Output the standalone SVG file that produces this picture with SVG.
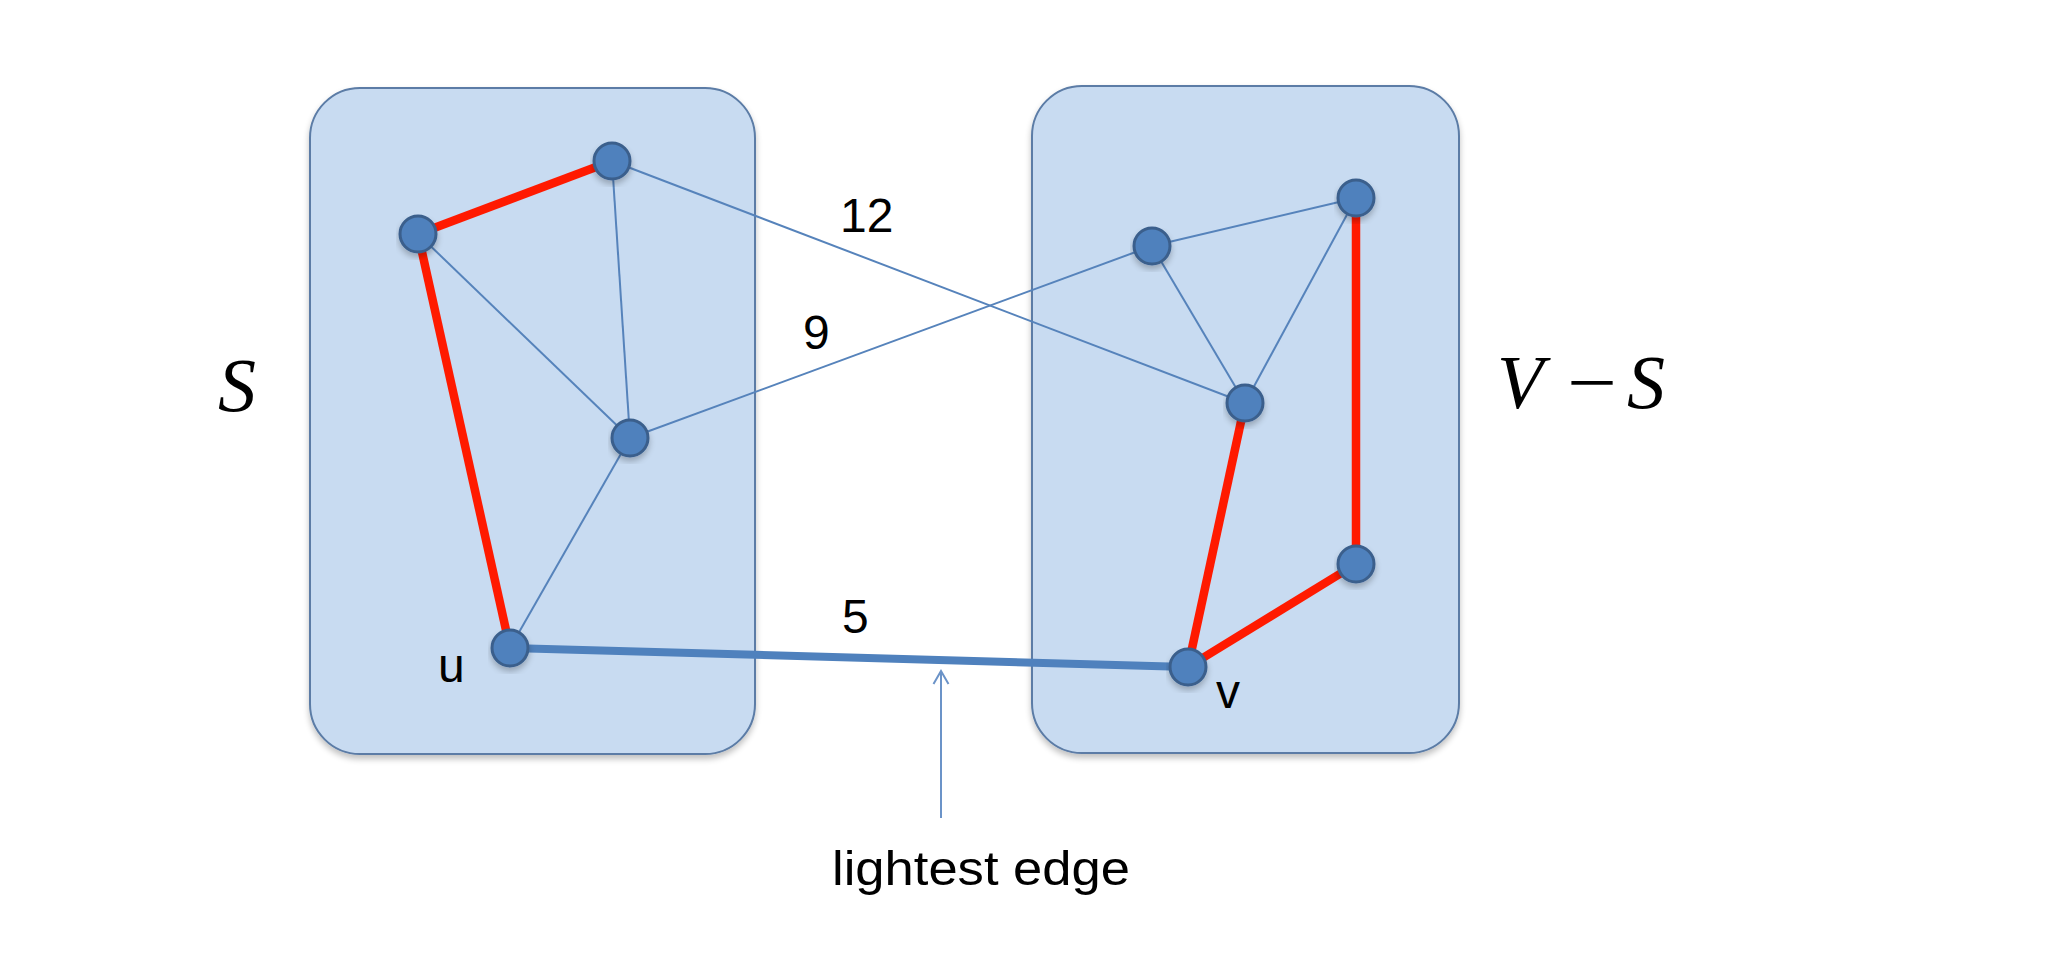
<svg xmlns="http://www.w3.org/2000/svg" width="2048" height="976" viewBox="0 0 2048 976">
<defs>
<filter id="sh" x="-10%" y="-10%" width="130%" height="130%">
<feGaussianBlur in="SourceAlpha" stdDeviation="3"/>
<feOffset dx="0" dy="4" result="b"/>
<feComponentTransfer><feFuncA type="linear" slope="0.25"/></feComponentTransfer>
<feMerge><feMergeNode/><feMergeNode in="SourceGraphic"/></feMerge>
</filter>
<marker id="arr" viewBox="0 0 20 20" refX="18" refY="10" markerWidth="20" markerHeight="20" markerUnits="userSpaceOnUse" orient="auto">
<path d="M5 2.5 L18 10 L5 17.5" fill="none" stroke="#6b93c8" stroke-width="2"/>
</marker>
</defs>
<style>
.box{fill:#c8dbf1;stroke:#5b7ca6;stroke-width:2}
.node{fill:#4f81bd;stroke:#3a5f8c;stroke-width:3}
.thin{stroke:#5683bb;stroke-width:2;fill:none}
.red{stroke:#ff1a00;stroke-width:8.5;fill:none;stroke-linecap:butt}
.heavy{stroke:#4f81bd;stroke-width:8;fill:none}
.lbl{font-family:"Liberation Sans",Arial,sans-serif;font-size:48px;fill:#000}
.math{font-family:"Liberation Serif","Times New Roman",serif;font-style:italic;font-size:76px;fill:#000}
</style>
<rect width="2048" height="976" fill="#ffffff"/>
<g id="setS"><rect class="box" x="310" y="88" width="445" height="666" rx="50" ry="50" filter="url(#sh)"/></g>
<g id="setVS"><rect class="box" x="1032" y="86" width="427" height="667" rx="50" ry="50" filter="url(#sh)"/></g>
<g id="connectors">
<line class="thin" x1="418" y1="234" x2="630" y2="438"/>
<line class="thin" x1="612" y1="161" x2="630" y2="438"/>
<line class="thin" x1="630" y1="438" x2="510" y2="648"/>
<line class="thin" x1="612" y1="161" x2="1245" y2="403"/>
<line class="thin" x1="630" y1="438" x2="1152" y2="246"/>
<line class="thin" x1="1152" y1="246" x2="1356" y2="198"/>
<line class="thin" x1="1152" y1="246" x2="1245" y2="403"/>
<line class="thin" x1="1356" y1="198" x2="1245" y2="403"/>
<line class="red" x1="418" y1="234" x2="612" y2="161"/>
<line class="red" x1="418" y1="234" x2="510" y2="648"/>
<line class="red" x1="1245" y1="403" x2="1188" y2="667"/>
<line class="red" x1="1356" y1="198" x2="1356" y2="564"/>
<line class="red" x1="1356" y1="564" x2="1188" y2="667"/>
<line class="heavy" x1="510" y1="648" x2="1188" y2="667"/>
<line x1="941" y1="818" x2="941" y2="671" stroke="#6b93c8" stroke-width="2" marker-end="url(#arr)"/>
</g>
<g id="nA"><circle class="node" cx="418" cy="234" r="18" filter="url(#sh)"/></g>
<g id="nB"><circle class="node" cx="612" cy="161" r="18" filter="url(#sh)"/></g>
<g id="nC"><circle class="node" cx="630" cy="438" r="18" filter="url(#sh)"/></g>
<g id="nU"><circle class="node" cx="510" cy="648" r="18" filter="url(#sh)"/><text class="lbl" x="438" y="682">u</text></g>
<g id="nD"><circle class="node" cx="1152" cy="246" r="18" filter="url(#sh)"/></g>
<g id="nE"><circle class="node" cx="1356" cy="198" r="18" filter="url(#sh)"/></g>
<g id="nF"><circle class="node" cx="1245" cy="403" r="18" filter="url(#sh)"/></g>
<g id="nG"><circle class="node" cx="1356" cy="564" r="18" filter="url(#sh)"/></g>
<g id="nV"><circle class="node" cx="1188" cy="667" r="18" filter="url(#sh)"/><text class="lbl" x="1216" y="708">v</text></g>
<g id="labels">
<text class="lbl" x="840" y="232">12</text>
<text class="lbl" x="803" y="349">9</text>
<text class="lbl" x="842" y="633">5</text>
<text class="lbl" x="981" y="885" text-anchor="middle" font-size="52" textLength="298" lengthAdjust="spacingAndGlyphs">lightest edge</text>
<text class="math" x="218" y="411">S</text>
<text class="math" y="408"><tspan x="1497">V</tspan><tspan x="1567" font-style="normal" textLength="50" lengthAdjust="spacingAndGlyphs">−</tspan><tspan x="1627">S</tspan></text>
</g>
</svg>
